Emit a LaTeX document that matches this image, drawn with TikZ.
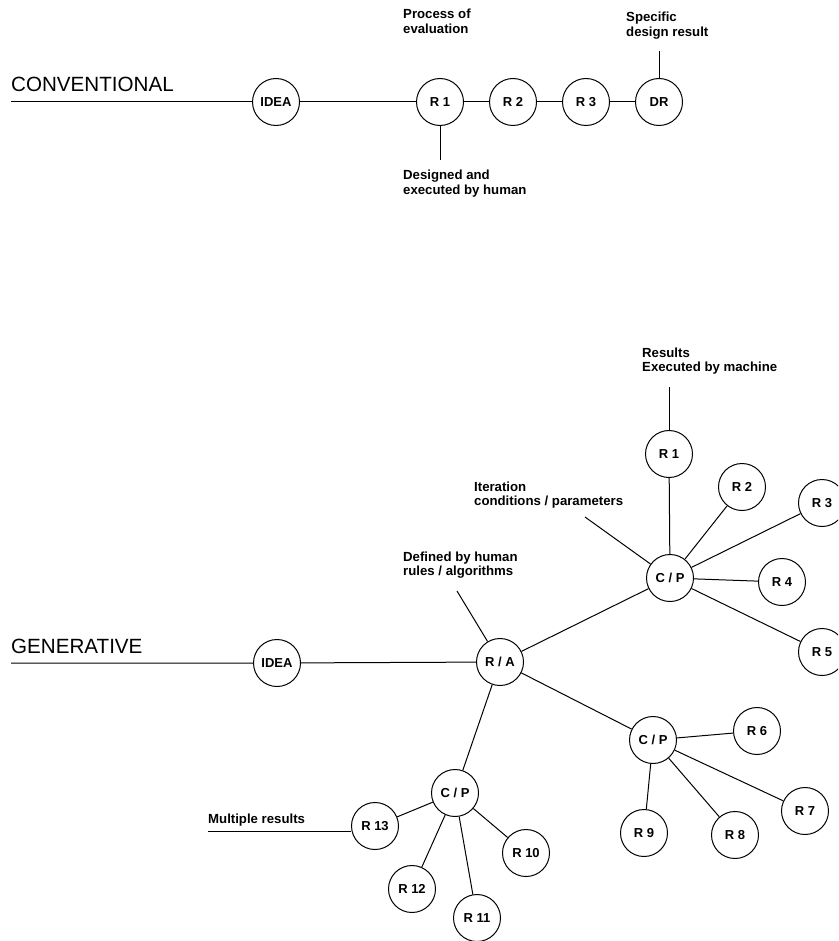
\documentclass[tikz,border=0pt]{standalone}
\usepackage{fontspec}
\setmainfont{Liberation Sans}
\begin{document}
\begin{tikzpicture}[x=1pt,y=-1pt,
  circ/.style={draw, circle, minimum size=47pt, inner sep=0pt, line width=1pt, font=\fontsize{13}{14}\selectfont\bfseries},
  lbl/.style={anchor=base west, inner sep=0pt, align=left, font=\fontsize{13.2}{14.6}\selectfont\bfseries},
  head/.style={anchor=base west, inner sep=0pt, font=\fontsize{20.6}{24}\selectfont},
  ln/.style={line width=1pt}]
\useasboundingbox (0,0) rectangle (838,941);
\clip (0,0) rectangle (838,941);
% ---------- conventional ----------
\node[head] (convT) at (11,92) {CONVENTIONAL};
\coordinate (convL) at (11,102);
\node[circ] (cidea) at (276,102) {IDEA};
\node[circ] (cr1) at (440,102) {R 1};
\node[circ] (cr2) at (513,102) {R 2};
\node[circ] (cr3) at (586,102) {R 3};
\node[circ] (cdr) at (659,102) {DR};
\draw[ln] (convL) -- (cidea) -- (cr1) -- (cr2) -- (cr3) -- (cdr);
\node[lbl] (proc) at (403,19) {\vtop{\hbox{Process of}\hbox{evaluation}}};
\node[lbl] (spec) at (626,22) {\vtop{\hbox{Specific}\hbox{design result}}};
\coordinate (specE) at (659,51);
\draw[ln] (cdr) -- (specE);
\coordinate (desE) at (440,160);
\draw[ln] (cr1) -- (desE);
\node[lbl] (des) at (403,180) {\vtop{\hbox{Designed and}\hbox{executed by human}}};
% ---------- generative ----------
\node[head] (genT) at (11,653) {GENERATIVE};
\coordinate (genL) at (11,663);
\node[circ] (gidea) at (277,663) {IDEA};
\node[circ] (ra) at (500,662) {R / A};
\draw[ln] (genL) -- (gidea) -- (ra);
\node[lbl] (defl) at (403,561) {\vtop{\hbox{Defined by human}\hbox{rules / algorithms}}};
\coordinate (defE) at (457,591);
\draw[ln] (ra) -- (defE);
% upper C/P
\node[circ] (cpu) at (670,578) {C / P};
\draw[ln] (ra) -- (cpu);
\node[lbl] (iter) at (474,491) {\vtop{\hbox{Iteration}\hbox{conditions / parameters}}};
\coordinate (iterE) at (585,517);
\draw[ln] (cpu) -- (iterE);
\node[circ] (g1) at (669,454) {R 1};
\node[circ] (g2) at (742,487) {R 2};
\node[circ] (g3) at (822,503) {R 3};
\node[circ] (g4) at (782,582) {R 4};
\node[circ] (g5) at (822,652) {R 5};
\foreach \n in {g1,g2,g3,g4,g5} \draw[ln] (cpu) -- (\n);
\coordinate (resE) at (669,387);
\draw[ln] (g1) -- (resE);
\node[lbl] (res) at (642,357) {\vtop{\hbox{Results}\hbox{Executed by machine}}};
% lower right C/P
\node[circ] (cpr) at (653,740) {C / P};
\draw[ln] (ra) -- (cpr);
\node[circ] (g6) at (757,731) {R 6};
\node[circ] (g7) at (805,811) {R 7};
\node[circ] (g8) at (735,835) {R 8};
\node[circ] (g9) at (644,833) {R 9};
\foreach \n in {g6,g7,g8,g9} \draw[ln] (cpr) -- (\n);
% lower left C/P
\node[circ] (cpl) at (455,793) {C / P};
\draw[ln] (ra) -- (cpl);
\node[circ] (g10) at (526,853) {R 10};
\node[circ] (g11) at (477,918) {R 11};
\node[circ] (g12) at (412,889) {R 12};
\node[circ] (g13) at (375,826) {R 13};
\foreach \n in {g10,g11,g12,g13} \draw[ln] (cpl) -- (\n);
\node[lbl] (mult) at (208,823) {Multiple results};
\coordinate (multE) at (208,831);
\draw[ln] (multE) -- (g13.west |- multE);
\end{tikzpicture}
\end{document}
